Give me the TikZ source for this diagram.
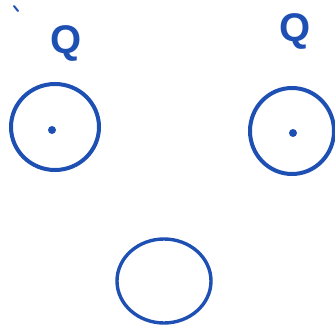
\documentclass[tikz,border=0pt]{standalone}
\usepackage{fontspec}
\setmainfont{Liberation Sans}
\usetikzlibrary{shapes.geometric}
\definecolor{ink}{RGB}{30,80,180}
\tikzset{
  ring/.style={draw=ink, line width=4pt, ellipse, inner sep=0pt},
  dotc/.style={circle, fill=ink, inner sep=0pt, minimum size=8pt},
  qlabel/.style={text=ink, font=\fontsize{40}{42}\selectfont\bfseries, inner sep=0pt}
}
\begin{document}
\begin{tikzpicture}[x=1pt,y=-1pt]
\useasboundingbox (0,0) rectangle (335,326);
\node[ring, minimum width=88pt, minimum height=86pt] (left) at (55,127) {};
\node[dotc] (ldot) at (52,130) {};
\node[qlabel] (lq) at (66,43) {Q};
\node[ring, minimum width=84pt, minimum height=86pt] (right) at (292,131) {};
\node[dotc] (rdot) at (293,133) {};
\node[qlabel] (rq) at (295,31) {Q};
\node[ring, minimum width=94pt, minimum height=84pt, line width=3.4pt] (bottom) at (164,281) {};
\coordinate (m1) at (14,6);
\coordinate (m2) at (18,11);
\draw[ink, line width=2pt, line cap=round] (m1) -- (m2);
\end{tikzpicture}
\end{document}
